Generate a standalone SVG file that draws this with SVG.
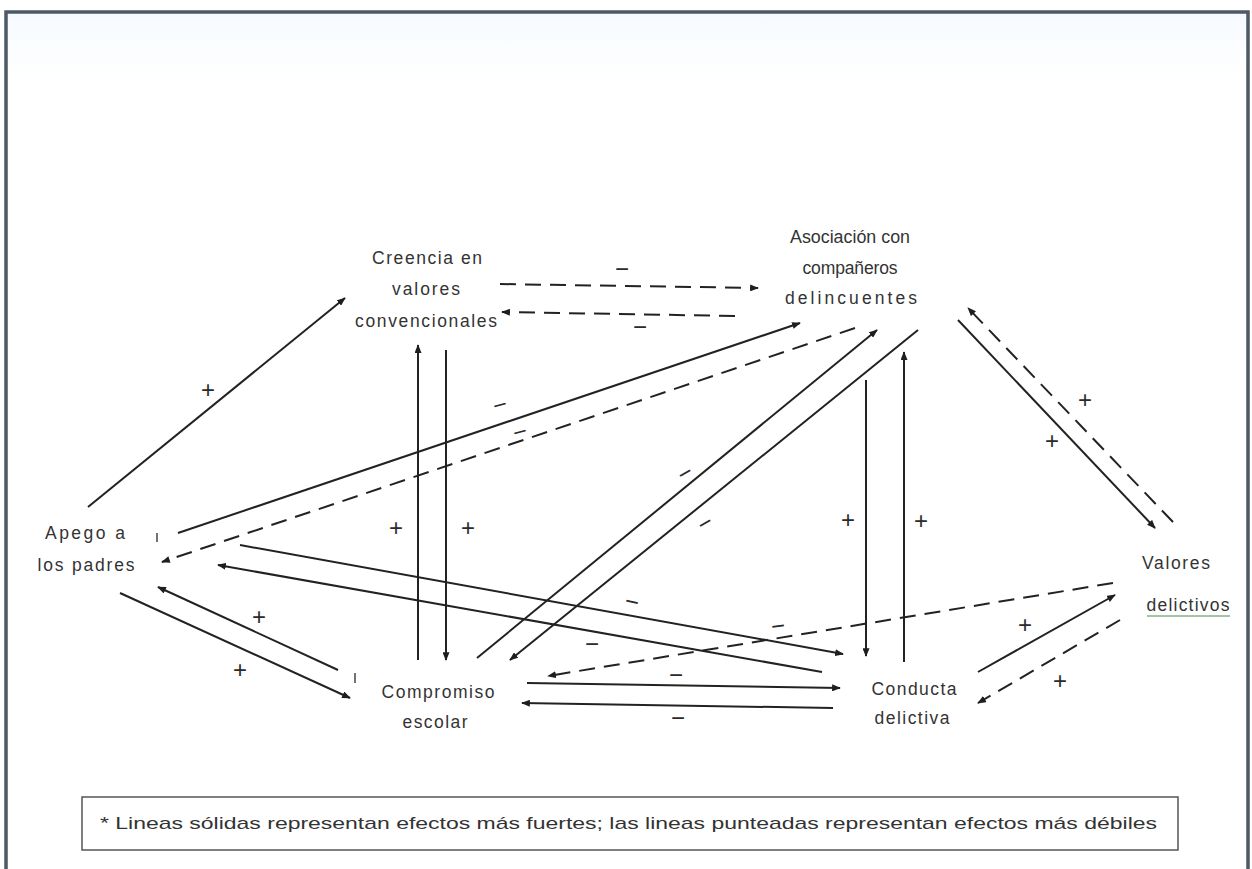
<svg xmlns="http://www.w3.org/2000/svg" width="1252" height="869" viewBox="0 0 1252 869">
  <defs>
    <marker id="ah" viewBox="0 0 10 8" refX="9" refY="4" markerWidth="9" markerHeight="7" markerUnits="userSpaceOnUse" orient="auto">
      <path d="M0,0 L10,4 L0,8 z" fill="#1e1e1e"/>
    </marker>
    <linearGradient id="bg" x1="0" y1="0" x2="0" y2="1">
      <stop offset="0" stop-color="#f6faff"/>
      <stop offset="0.08" stop-color="#ffffff"/>
      <stop offset="1" stop-color="#ffffff"/>
    </linearGradient>
  </defs>
  <style>
    .lbl { font-family: "Liberation Sans", "Open Sans", Arial, sans-serif; font-size: 17.5px; fill: #333; text-anchor: middle; }
    .sign { font-family: "Liberation Sans", Arial, sans-serif; font-size: 24px; fill: #2a2a2a; text-anchor: middle; }
    .c { stroke: #222; stroke-width: 2; fill: none; marker-end: url(#ah); }
    .d { stroke-dasharray: 16 9; }
    .tick { stroke: #444; stroke-width: 1.5; }
  </style>
  <rect x="0" y="0" width="1252" height="869" fill="#ffffff"/>
  <rect x="6" y="12" width="1242" height="875" fill="url(#bg)" stroke="#4e5966" stroke-width="3.5"/>

  <g id="connectors">
    <line class="c" x1="88" y1="507" x2="345" y2="298"/>
    <line class="c d" x1="500" y1="284" x2="758" y2="288"/>
    <line class="c d" x1="735" y1="316" x2="502" y2="312"/>
    <line class="c" x1="418" y1="660" x2="418" y2="345"/>
    <line class="c" x1="446" y1="350" x2="446" y2="660"/>
    <line class="c" x1="178" y1="533" x2="800" y2="323"/>
    <line class="c d" x1="855" y1="328" x2="162" y2="562"/>
    <line class="c" x1="477" y1="658" x2="877" y2="330"/>
    <line class="c" x1="918" y1="330" x2="510" y2="660"/>
    <line class="c" x1="866" y1="380" x2="866" y2="656"/>
    <line class="c" x1="904" y1="662" x2="904" y2="352"/>
    <line class="c" x1="958" y1="320" x2="1155" y2="528"/>
    <line class="c d" x1="1173" y1="522" x2="968" y2="308"/>
    <line class="c" x1="240" y1="545" x2="843" y2="654"/>
    <line class="c" x1="822" y1="672" x2="218" y2="565"/>
    <line class="c" x1="338" y1="670" x2="158" y2="587"/>
    <line class="c" x1="120" y1="593" x2="350" y2="698"/>
    <line class="c d" x1="1113" y1="583" x2="548" y2="676"/>
    <line class="c" x1="527" y1="683" x2="840" y2="688"/>
    <line class="c" x1="833" y1="708" x2="522" y2="703"/>
    <line class="c" x1="978" y1="672" x2="1115" y2="595"/>
    <line class="c d" x1="1120" y1="620" x2="978" y2="703"/>
    <line class="tick" x1="157" y1="533" x2="157" y2="542"/>
    <line class="tick" x1="355" y1="673" x2="355" y2="683"/>
  </g>

  <g id="signs">
    <text class="sign" x="208" y="398">+</text>
    <text class="sign" x="396" y="536">+</text>
    <text class="sign" x="468" y="536">+</text>
    <text class="sign" x="848" y="528">+</text>
    <text class="sign" x="921" y="529">+</text>
    <text class="sign" x="1085" y="408">+</text>
    <text class="sign" x="1052" y="449">+</text>
    <text class="sign" x="259" y="625">+</text>
    <text class="sign" x="240" y="678">+</text>
    <text class="sign" x="1025" y="633">+</text>
    <text class="sign" x="1060" y="689">+</text>
    <text class="sign" x="622" y="277">−</text>
    <text class="sign" x="640" y="335">−</text>
    <text class="sign" x="500" y="413" transform="rotate(-15 500 405)">−</text>
    <text class="sign" x="520" y="440" transform="rotate(-15 520 432)">−</text>
    <text class="sign" x="685" y="481" transform="rotate(-30 685 473)">−</text>
    <text class="sign" x="705" y="531" transform="rotate(-30 705 523)">−</text>
    <text class="sign" x="632" y="610" transform="rotate(12 632 602)">−</text>
    <text class="sign" x="592" y="652">−</text>
    <text class="sign" x="778" y="634" transform="rotate(-8 778 626)">−</text>
    <text class="sign" x="676" y="683">−</text>
    <text class="sign" x="678" y="726">−</text>
  </g>

  <g id="creencia">
    <text class="lbl" x="427" y="264" textLength="110" lengthAdjust="spacing">Creencia en</text>
    <text class="lbl" x="426" y="295" textLength="68" lengthAdjust="spacing">valores</text>
    <text class="lbl" x="426" y="327" textLength="142" lengthAdjust="spacing">convencionales</text>
  </g>
  <g id="asociacion">
    <text class="lbl" x="850" y="243" textLength="120" lengthAdjust="spacingAndGlyphs">Asociación con</text>
    <text class="lbl" x="850" y="274" textLength="95" lengthAdjust="spacing">compañeros</text>
    <text class="lbl" x="851" y="304" textLength="132" lengthAdjust="spacing">delincuentes</text>
  </g>
  <g id="apego">
    <text class="lbl" x="85" y="539" textLength="80" lengthAdjust="spacing">Apego a</text>
    <text class="lbl" x="86" y="571" textLength="97" lengthAdjust="spacing">los padres</text>
  </g>
  <g id="valores">
    <text class="lbl" x="1176" y="569" textLength="68" lengthAdjust="spacing">Valores</text>
    <text class="lbl" x="1188" y="611" textLength="83" lengthAdjust="spacing">delictivos</text>
    <line x1="1147" y1="616" x2="1230" y2="616" stroke="#4a8a4a" stroke-width="1"/>
  </g>
  <g id="compromiso">
    <text class="lbl" x="438" y="698" textLength="113" lengthAdjust="spacing">Compromiso</text>
    <text class="lbl" x="435" y="728" textLength="65" lengthAdjust="spacing">escolar</text>
  </g>
  <g id="conducta">
    <text class="lbl" x="914" y="695" textLength="85" lengthAdjust="spacing">Conducta</text>
    <text class="lbl" x="912" y="724" textLength="75" lengthAdjust="spacing">delictiva</text>
  </g>

  <g id="nota">
    <rect x="82" y="797" width="1096" height="53" fill="#ffffff" stroke="#555" stroke-width="1.5"/>
    <text x="100" y="829" font-family="Liberation Sans, Arial, sans-serif" font-size="17" fill="#333" textLength="1057" lengthAdjust="spacingAndGlyphs">* Lineas sólidas representan efectos más fuertes; las lineas punteadas representan efectos más  débiles</text>
  </g>
</svg>
